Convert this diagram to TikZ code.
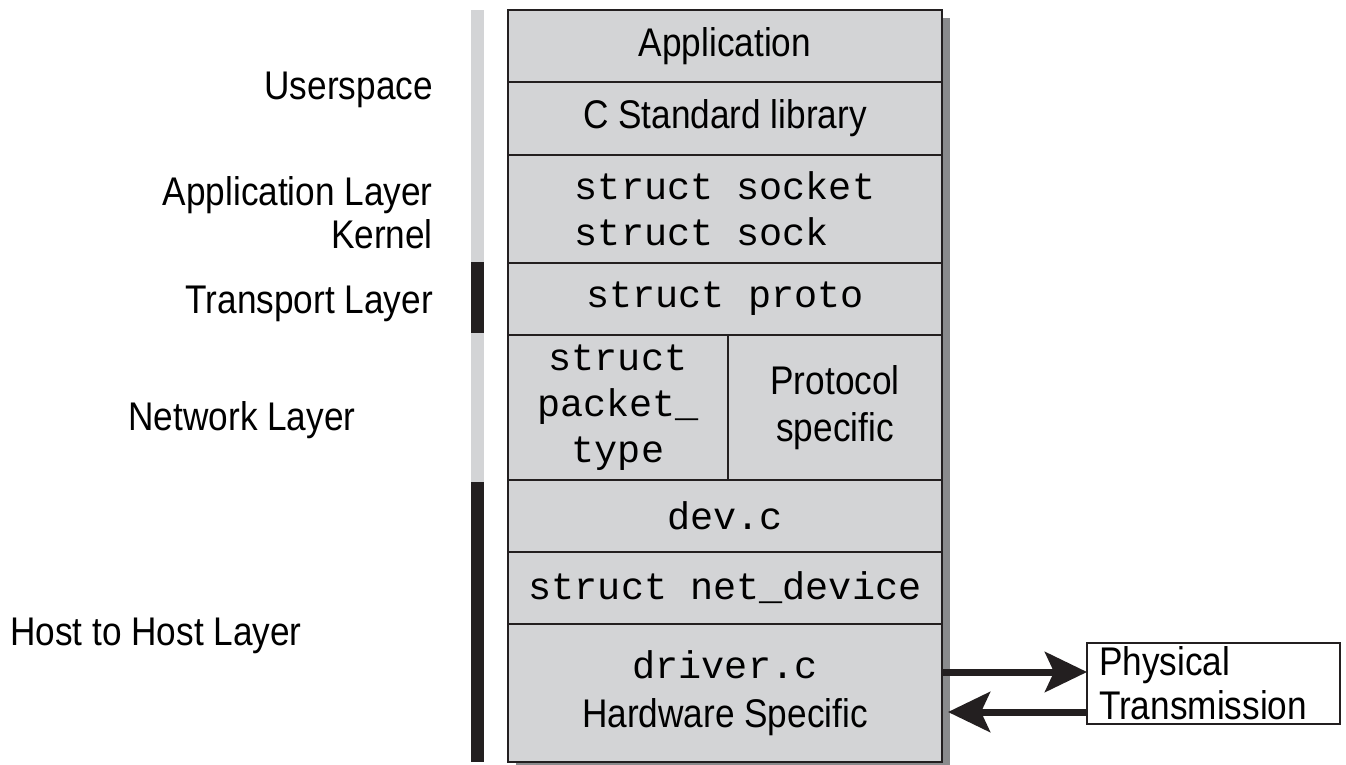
\documentclass[tikz,border=0pt]{standalone}
\usepackage{fontspec}
\setmainfont{Liberation Sans}[FakeStretch=0.88]
\setmonofont{Liberation Mono}
\usepackage{tikz}
\usetikzlibrary{arrows.meta,positioning}

\definecolor{layergray}{HTML}{D3D4D6}
\definecolor{shadowgray}{HTML}{8A8B8D}
\definecolor{barblack}{HTML}{231F20}

\tikzset{
  cell/.style={draw=barblack, line width=2pt, fill=layergray, outer sep=0pt, inner sep=0pt,
    minimum width=434pt, align=center, font=\fontsize{40}{47}\selectfont},
  code/.style={font=\ttfamily\fontsize{38.5}{46}\selectfont},
  lbl/.style={inner sep=0pt, font=\fontsize{40}{44}\selectfont},
  flow/.style={line width=7pt, barblack, -{Stealth[length=42pt,width=40pt,inset=9pt]}}
}

\begin{document}
\begin{tikzpicture}[x=1pt,y=-1pt]
  \useasboundingbox (0,0) rectangle (1346,765);
  % Schatten hinter dem Stapel
  \fill[shadowgray] (516,18) rectangle (950,770);

  % Stapel der Schichten
  \node[cell, minimum height=72pt, anchor=north west] (app) at (508,10) {Application};
  \node[cell, minimum height=73pt, below=0pt of app] (libc) {C Standard library};
  \node[cell, code, minimum height=108pt, below=0pt of libc, align=left] (sock) {struct socket\\struct sock};
  \node[cell, code, minimum height=72pt, below=0pt of sock] (proto) {struct proto};
  \node[cell, code, minimum height=145pt, minimum width=220pt, anchor=north west] (pkt) at (proto.south west) {struct\\packet\_\\type};
  \node[cell, minimum height=145pt, minimum width=214pt, anchor=north west] (spec) at (pkt.north east) {Protocol\\specific};
  \node[cell, code, minimum height=72pt, anchor=north west] (dev) at (pkt.south west) {dev.c};
  \node[cell, code, minimum height=72pt, below=0pt of dev] (netdev) {struct net\_device};
  \node[cell, minimum height=138pt, below=0pt of netdev] (drv) {{\ttfamily\fontsize{38.5}{46}\selectfont driver.c}\\[2pt]Hardware Specific};

  % Balken links
  \fill[layergray] (471,10) rectangle (484,262);
  \fill[barblack] (471,262) rectangle (484,333);
  \fill[layergray] (471,333) rectangle (484,482);
  \fill[barblack] (471,482) rectangle (484,762);

  % Beschriftungen
  \node[lbl, anchor=base east] (usr) at (433,100) {Userspace};
  \node[lbl, anchor=base east] (applyr) at (433,205) {Application Layer};
  \node[lbl, anchor=base east] (kern) at (433,248) {Kernel};
  \node[lbl, anchor=base east] (trans) at (433,313) {Transport Layer};
  \node[lbl, anchor=base] (net) at (242,430) {Network Layer};
  \node[lbl, anchor=base west] (host) at (10,645) {Host to Host Layer};

  % Physikalische Uebertragung
  \node[draw=barblack, line width=2pt, inner xsep=12pt, inner ysep=4pt, align=left, outer sep=0pt,
    text width=229pt, minimum height=77pt, font=\fontsize{40}{44}\selectfont,
    anchor=north west] (phys) at (1087,643) {Physical\\Transmission};
  \coordinate (out) at (drv.east |- 0,672);
  \coordinate (in) at (phys.west |- 0,712);
  \draw[flow] (out) -- (out -| phys.west);
  \draw[flow] (in) -- ([xshift=6pt]in -| drv.east);
\end{tikzpicture}
\end{document}
